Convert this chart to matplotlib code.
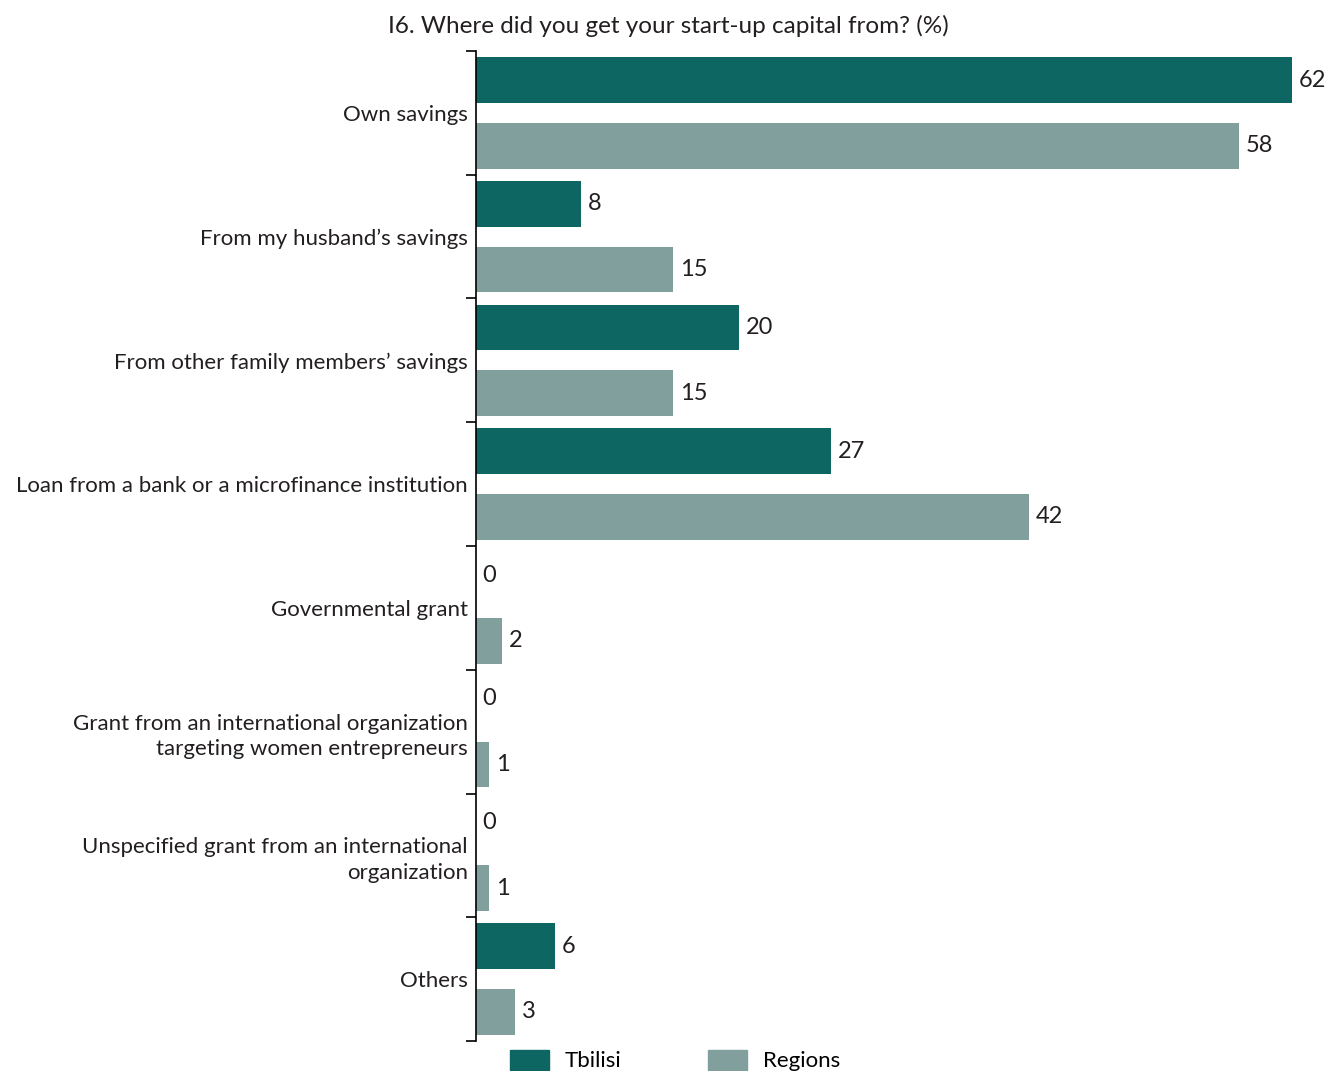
import numpy as np
import matplotlib.pyplot as plt
from matplotlib.patches import Patch

plt.rcParams['font.family'] = ['Lato', 'DejaVu Sans']

categories = [
    "Own savings",
    "From my husband\u2019s savings",
    "From other family members\u2019 savings",
    "Loan from a bank or a microfinance institution",
    "Governmental grant",
    "Grant from an international organization\ntargeting women entrepreneurs",
    "Unspecified grant from an international\norganization",
    "Others",
]
tbilisi = [62, 8, 20, 27, 0, 0, 0, 6]
regions = [58, 15, 15, 42, 2, 1, 1, 3]

dark = "#0d6661"
light = "#819f9c"
text_col = "#231f20"

fig = plt.figure(figsize=(13.27, 10.71), dpi=100)
ax = fig.add_axes([476 / 1327, 30 / 1071, 816 / 1327, 990 / 1071])

n = len(categories)
y = np.arange(n)
h = 0.37
off = 0.265

ax.barh(y - off, tbilisi, height=h, color=dark)
ax.barh(y + off, regions, height=h, color=light)

for yi, v in zip(y - off, tbilisi):
    ax.text(v + 0.5, yi, f"{v}", va="center", ha="left", fontsize=17, color=text_col, clip_on=False)
for yi, v in zip(y + off, regions):
    ax.text(v + 0.5, yi, f"{v}", va="center", ha="left", fontsize=17, color=text_col, clip_on=False)

ax.set_xlim(0, 62)
ax.set_ylim(n - 0.5, -0.5)

# tick marks at group boundaries, labels at group centres
ax.set_yticks(np.arange(n + 1) - 0.5)
ax.set_yticklabels([])
ax.tick_params(axis="y", which="major", length=7, width=1.2, direction="out")
ax.set_yticks(y, minor=True)
ax.set_yticklabels(categories, minor=True, fontsize=16, color=text_col, ha="right",
                   linespacing=1.35)
ax.tick_params(axis="y", which="minor", length=0, pad=6)

ax.set_xticks([])
for s in ["top", "right", "bottom"]:
    ax.spines[s].set_visible(False)
ax.spines["left"].set_linewidth(1.2)

fig.text(0.504, 0.976, "I6. Where did you get your start-up capital from? (%)",
         ha="center", va="center", fontsize=17.5, color=text_col)

handles = [Patch(color=dark, label="Tbilisi"), Patch(color=light, label="Regions")]
fig.legend(handles=handles, loc="upper left", bbox_to_anchor=(0.378, 0.028),
           ncol=2, frameon=False, fontsize=16, handlelength=1.75, handleheight=1.0,
           columnspacing=3.9, handletextpad=0.7, borderaxespad=0)

fig.savefig("out.png", dpi=100)
